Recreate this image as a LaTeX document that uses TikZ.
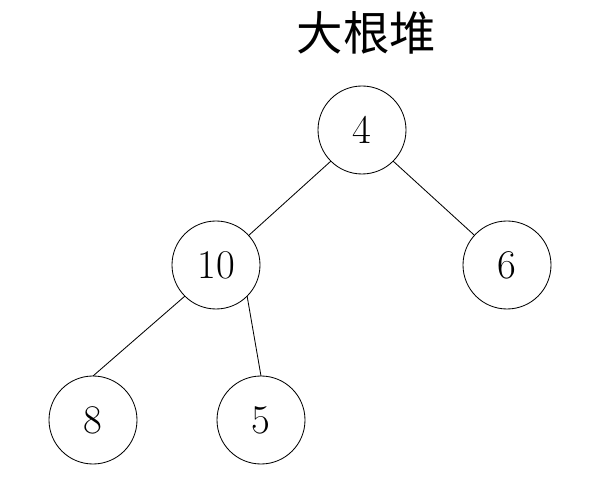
\documentclass[tikz,border=0pt]{standalone}
\usepackage{fontspec}
\newfontfamily\cjk{Noto Sans CJK SC}
\usepackage{tikz}
\usetikzlibrary{shapes,calc,positioning}
\tikzstyle{edge}  =[line width=0.6pt]
\tikzstyle{vertex}=[circle, draw, minimum size=2.2cm,
                    line width=0.6pt, inner sep=0pt,
                    outer sep=0pt, font=\fontsize{29}{32}\selectfont]
\begin{document}
\begin{tikzpicture}
    \useasboundingbox (0,0) rectangle (15.325,12.325);

    \draw (9.16,11.5) node(titulo){\cjk\fontsize{33}{36}\selectfont 大根堆};

    \draw (9.05,9.075) node(4)[vertex]{4};
    \draw (5.4,5.7) node(10)[vertex]{10};
    \draw (12.675,5.7) node(6)[vertex]{6};
    \draw (2.325,1.825) node(8)[vertex]{8};
    \draw (6.525,1.825) node(5)[vertex]{5};

    \foreach \i/\j in {4.south west/10,4.south east/6,10.south west/8.north,10.south east/5.north}
        \draw [edge] (\i) -- (\j);

\end{tikzpicture}
\end{document}
